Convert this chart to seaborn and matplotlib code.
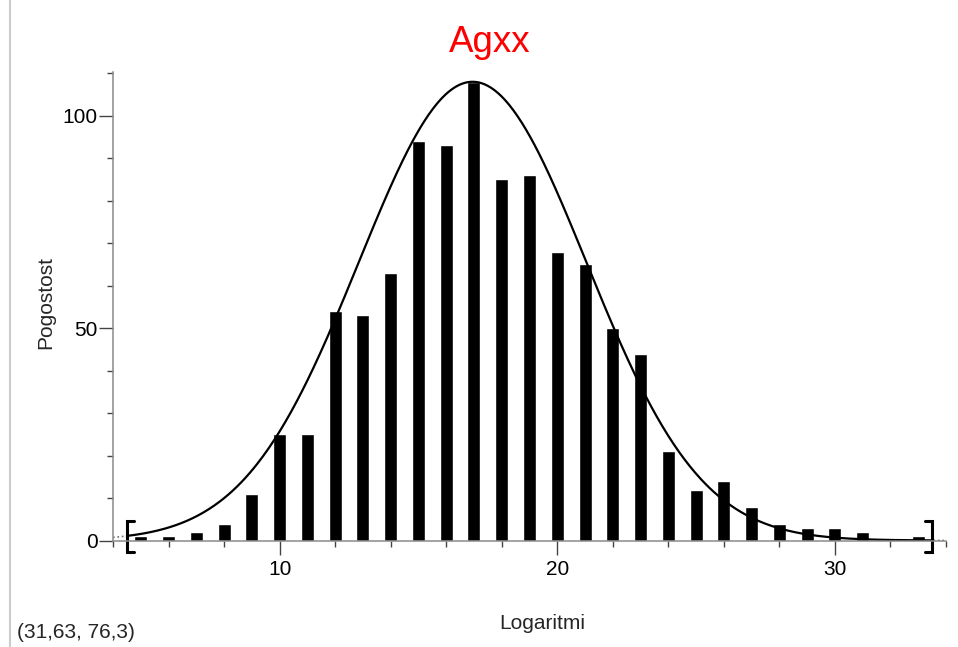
import numpy as np
import pandas as pd
import matplotlib.pyplot as plt
import matplotlib.lines as mlines
import seaborn as sns

# Histogram of the log values (bin centre -> frequency)
bin_centres = list(range(5, 34))
frequencies = [1, 1, 2, 4, 11, 25, 25, 54, 53, 63, 94, 93, 108, 85, 86, 68,
               65, 50, 44, 21, 12, 14, 8, 4, 3, 3, 2, 0, 1]

# Normal curve drawn over the histogram
curve_mean = 16.95
curve_sd = 4.1
curve_peak = 108

# Data range shown by the brackets
range_lo, range_hi = 4.5, 33.5

title_text = 'Agxx'
x_label = 'Logaritmi'
y_label = 'Pogostost'
cursor_text = '(31,63, 76,3)'

df = pd.DataFrame({'x': bin_centres, 'n': frequencies})

sns.set_theme(style='ticks')
plt.rcParams['font.family'] = ['Liberation Sans', 'DejaVu Sans']

W, H = 958, 647
fig = plt.figure(figsize=(W / 100, H / 100), dpi=100)
ax = fig.add_axes([113 / W, (H - 540.5) / H, (946 - 113) / W, (540.5 - 72) / H])

# Bars
sns.barplot(data=df, x='x', y='n', native_scale=True, width=0.47,
            color='black', saturation=1, ax=ax)

# Normal curve: solid inside the range, dotted outside
xs = np.linspace(4, 34, 600)
curve = pd.DataFrame({'x': xs, 'y': curve_peak * np.exp(-0.5 * ((xs - curve_mean) / curve_sd) ** 2)})
inside = curve[(curve.x >= range_lo) & (curve.x <= range_hi)]
sns.lineplot(data=inside, x='x', y='y', color='black', lw=1.6, ax=ax)
for part in (curve[curve.x <= range_lo], curve[curve.x >= range_hi]):
    sns.lineplot(data=part, x='x', y='y', color='#707070', lw=1.2,
                 linestyle=':', ax=ax)

# Range brackets
b_lo, b_hi, serif = -2.8, 4.7, 0.25
ax.plot([range_lo + serif, range_lo, range_lo, range_lo + serif],
        [b_hi, b_hi, b_lo, b_lo], color='black', lw=2.2, clip_on=False,
        solid_joinstyle='miter')
ax.plot([range_hi - serif, range_hi, range_hi, range_hi - serif],
        [b_hi, b_hi, b_lo, b_lo], color='black', lw=2.2, clip_on=False,
        solid_joinstyle='miter')

ax.set_xlim(4, 34)
ax.set_ylim(0, 110.3)
ax.set_xticks([10, 20, 30])
ax.set_xticks(np.arange(4, 35, 2), minor=True)
ax.set_yticks([0, 50, 100])
ax.set_yticks(np.arange(0, 111, 10), minor=True)
ax.set_xlabel('')
ax.set_ylabel('')

for side in ['top', 'right']:
    ax.spines[side].set_visible(False)
for side in ['left', 'bottom']:
    ax.spines[side].set_color('#8a8a8a')
    ax.spines[side].set_linewidth(1.1)

ax.tick_params(which='major', length=10, width=1, color='#444444',
               labelsize=15, labelcolor='black')
ax.tick_params(axis='x', which='major', pad=4)
ax.tick_params(axis='y', which='major', pad=1)
ax.tick_params(which='minor', length=4.5, width=1, color='#444444')

fig.text(490 / W, 1 - 52 / H, title_text, color='red', fontsize=26.5,
         ha='center', va='baseline')
fig.text(542 / W, 1 - 629 / H, x_label, fontsize=15, ha='center', va='baseline')
fig.text(46 / W, 1 - 303 / H, y_label, fontsize=15, rotation=90,
         ha='center', va='center')
fig.text(17 / W, 1 - 638 / H, cursor_text, fontsize=15, ha='left', va='baseline')

# window border line on the far left
fig.add_artist(mlines.Line2D([9.5 / W, 9.5 / W], [0, 1], color='#cccccc', lw=1.5))

fig.savefig('out.png', dpi=100)
